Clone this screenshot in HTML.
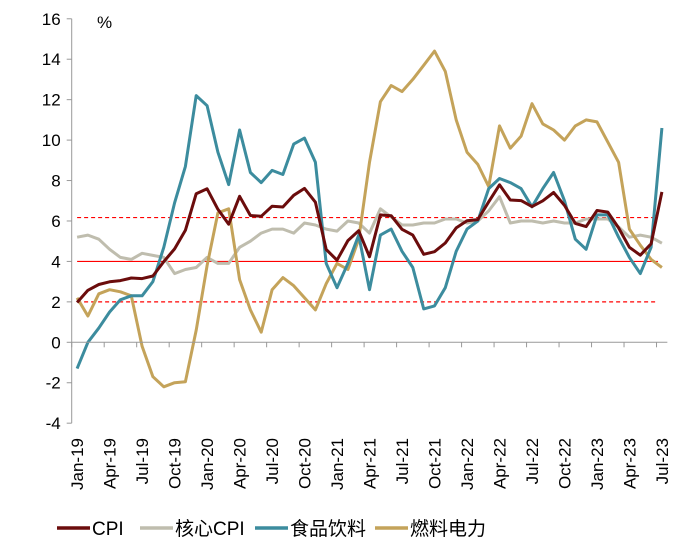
<!DOCTYPE html>
<html><head><meta charset="utf-8"><style>
html,body{margin:0;padding:0;background:#fff;}
svg{display:block;font-family:"Liberation Sans","Noto Sans CJK SC",sans-serif;}
</style></head><body>
<svg id="chart" width="700" height="547" viewBox="0 0 700 547" xmlns="http://www.w3.org/2000/svg">
<g id="grid"></g><g id="series"></g><g id="axes"></g><g id="legend"></g>
</svg>
<script>
const categories = (function(){const m=["Jan","Feb","Mar","Apr","May","Jun","Jul","Aug","Sep","Oct","Nov","Dec"];const o=[];for(let y=19;y<=23;y++){for(let i=0;i<12;i++){if(y===23&&i>6)break;o.push(m[i]+"-"+y);}}return o;})();
const cpiValues = [1.97,2.57,2.86,2.99,3.05,3.18,3.15,3.28,3.99,4.62,5.54,7.35,
7.59,6.58,5.84,7.22,6.27,6.23,6.73,6.69,7.27,7.61,6.93,4.59,
4.06,5.03,5.52,4.23,6.30,6.26,5.59,5.30,4.35,4.48,4.91,5.66,
6.01,6.07,6.95,7.79,7.04,7.01,6.71,7.00,7.41,6.77,5.88,5.72,
6.52,6.44,5.66,4.70,4.31,4.87,7.44];
const coreValues = [5.2,5.3,5.1,4.6,4.2,4.1,4.4,4.3,4.2,3.4,3.6,3.7,
4.2,3.9,3.9,4.7,5.0,5.4,5.6,5.6,5.4,5.9,5.8,5.6,
5.5,6.0,5.9,5.4,6.6,6.2,5.8,5.8,5.9,5.9,6.1,6.1,
5.9,6.0,6.5,7.2,5.9,6.0,6.0,5.9,6.0,5.9,5.9,6.1,
6.1,6.1,5.7,5.2,5.3,5.2,4.9];
const foodValues = [-1.3,0.0,0.7,1.5,2.1,2.3,2.3,3.0,4.7,6.9,8.7,12.2,
11.7,9.4,7.8,10.5,8.4,7.9,8.5,8.3,9.8,10.1,8.9,3.9,
2.7,3.9,5.3,2.6,5.3,5.6,4.5,3.7,1.65,1.8,2.7,4.5,
5.6,6.0,7.6,8.1,7.9,7.6,6.7,7.6,8.4,7.0,5.1,4.6,
6.3,6.3,5.2,4.2,3.4,4.7,10.6];
const fuelValues = [2.2,1.3,2.4,2.6,2.5,2.3,-0.2,-1.7,-2.2,-2.0,-1.95,0.6,
3.8,6.4,6.6,3.1,1.6,0.5,2.6,3.2,2.8,2.2,1.6,2.9,
3.9,3.6,5.1,8.9,11.9,12.7,12.4,13.0,13.7,14.4,13.4,11.0,
9.4,8.8,7.7,10.7,9.6,10.2,11.8,10.8,10.5,10.0,10.7,11.0,
10.9,9.9,8.9,5.6,4.8,4.1,3.7];
const yTicks = [-4,-2,0,2,4,6,8,10,12,14,16];
const refLines = [{v:6.17,dash:true},{v:4,dash:false},{v:2,dash:true}];
const seriesNames = ["CPI","核心CPI","食品饮料","燃料电力"];

const NS="http://www.w3.org/2000/svg";
const X0=71.7, STEP=10.83, Y0=342.3, PPU=20.22;
function xScale(i){return X0+(i+0.5)*STEP;}
function yScale(v){return Y0-v*PPU;}
function mk(tag,attrs,parent){const e=document.createElementNS(NS,tag);for(const k in attrs)e.setAttribute(k,attrs[k]);parent.appendChild(e);return e;}
const grid=document.getElementById('grid'),ser=document.getElementById('series'),axes=document.getElementById('axes'),leg=document.getElementById('legend');
const xEnd=xScale(categories.length-1);

refLines.forEach(r=>{
  const l=mk('line',{x1:xScale(0),x2:xEnd-4,y1:yScale(r.v),y2:yScale(r.v),stroke:'#FF0000','stroke-width':1.2},grid);
  if(r.dash)l.setAttribute('stroke-dasharray','4,3');
  
  
});

// axes
const ya=mk('line',{x1:X0,x2:X0,y1:yScale(16),y2:yScale(-4),stroke:'#999','stroke-width':1},axes);


yTicks.forEach(t=>{
  mk('line',{x1:X0-5,x2:X0,y1:yScale(t),y2:yScale(t),stroke:'#999'},axes);
  const tx=mk('text',{x:X0-11,y:yScale(t)+6,'text-anchor':'end','font-size':17,fill:'#000'},axes);
  tx.textContent=t;
  
  
});
const xa=mk('line',{x1:X0,x2:X0+categories.length*STEP,y1:Y0,y2:Y0,stroke:'#999','stroke-width':1},axes);


for(let k=0;k<=categories.length;k+=3){
  mk('line',{x1:X0+k*STEP,x2:X0+k*STEP,y1:Y0,y2:Y0+5,stroke:'#999'},axes);
}
categories.forEach((c,i)=>{
  if(i%3!==0)return;
  const x=xScale(i)+6;
  const tx=mk('text',{x:x,y:438,'text-anchor':'end','font-size':17,fill:'#000',transform:`rotate(-90 ${x} 438)`},axes);
  tx.textContent=c;
  
  
});
const pct=mk('text',{x:97,y:28,'font-size':17,fill:'#000'},axes);
pct.textContent='%';



const colors=['#6B0C0C','#BFBDAE','#3C8C9E','#C4A35A'];
const data=[cpiValues,coreValues,foodValues,fuelValues];
const names=['cpi-line','core-cpi-line','food-beverage-line','fuel-light-line'];
[1,3,2,0].forEach(s=>{
  const d=data[s].map((v,i)=>(i?'L':'M')+xScale(i).toFixed(1)+','+yScale(v).toFixed(1)).join('');
  const p=mk('path',{d:d,fill:'none',stroke:colors[s],'stroke-width':3,'stroke-linejoin':'round'},ser);
  
  
});

const legX=[57,140,255,375];
seriesNames.forEach((n,s)=>{
  const g=mk('g',{},leg);
  
  
  mk('line',{x1:legX[s],x2:legX[s]+33,y1:528,y2:528,stroke:colors[s],'stroke-width':3.5},g);
  const t=mk('text',{x:legX[s]+35,y:535,'font-size':19,fill:'#000'},g);
  t.textContent=n;
});
</script>
</body></html>
